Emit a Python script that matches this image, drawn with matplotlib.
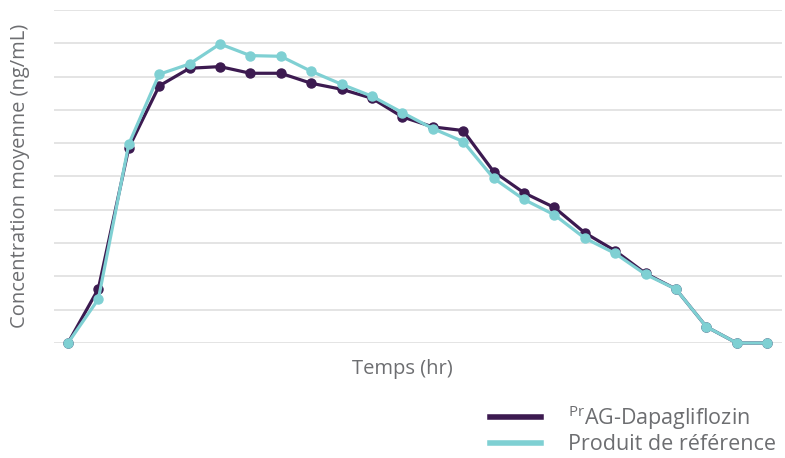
import matplotlib
matplotlib.use("Agg")
import matplotlib.pyplot as plt
from matplotlib.lines import Line2D

plt.rcParams['font.family'] = ['Open Sans', 'DejaVu Sans']
plt.rcParams['mathtext.fontset'] = 'custom'
plt.rcParams['mathtext.rm'] = 'Open Sans'

time_points = list(range(24))
prag_dapagliflozin = [0, 1.63, 5.86, 7.72, 8.25, 8.30, 8.10, 8.10, 7.80, 7.62, 7.35, 6.79,
                      6.49, 6.38, 5.15, 4.51, 4.07, 3.31, 2.77, 2.09, 1.62, 0.49, 0, 0]
produit_reference = [0, 1.32, 5.97, 8.07, 8.38, 8.98, 8.63, 8.61, 8.16, 7.77, 7.41, 6.92,
                     6.44, 6.05, 4.95, 4.31, 3.85, 3.15, 2.69, 2.06, 1.62, 0.49, 0, 0]
label_prag = r"$^{\mathrm{Pr}}$AG-Dapagliflozin"
label_ref = "Produit de référence"

purple = "#3c1a50"
teal = "#7fd0d3"
gray = "#6d6e71"

W, H = 785, 458
fig = plt.figure(figsize=(W / 100, H / 100), dpi=100)
ax = fig.add_axes([54 / W, 1 - 343 / H, (782 - 54) / W, (343 - 10) / H])

ax.plot(time_points, prag_dapagliflozin, color=purple, lw=2.3, marker='o', ms=6.5,
        clip_on=False, zorder=3)
ax.plot(time_points, produit_reference, color=teal, lw=2.3, marker='o', ms=6.5,
        clip_on=False, zorder=4)

ax.set_xlim(-0.46, 23.49)
ax.set_ylim(0, 10)
ax.set_yticks(range(11))
ax.set_xticks([])
ax.grid(axis='y', color='#dcdcdc', lw=1.1)
ax.set_axisbelow(True)
ax.tick_params(left=False, labelleft=False, bottom=False)
for s in ax.spines.values():
    s.set_visible(False)

fig.text(402 / W, 1 - 369 / H, "Temps (hr)", ha='center', va='center', fontsize=14.5, color=gray)
fig.text(20 / W, 1 - 176 / H, "Concentration moyenne (ng/mL)", ha='center', va='center',
         rotation=90, fontsize=14.5, color=gray)

handles = [Line2D([], [], color=purple, lw=4), Line2D([], [], color=teal, lw=4)]
leg = fig.legend(handles, [label_prag, label_ref], loc='upper left',
                 bbox_to_anchor=(490 / W, 1 - 403 / H), frameon=False, fontsize=15.5,
                 handlelength=2.35, handletextpad=1.25, labelspacing=0.12,
                 borderpad=0, borderaxespad=0, labelcolor=gray)

fig.savefig("out.png", dpi=100, facecolor='white')
